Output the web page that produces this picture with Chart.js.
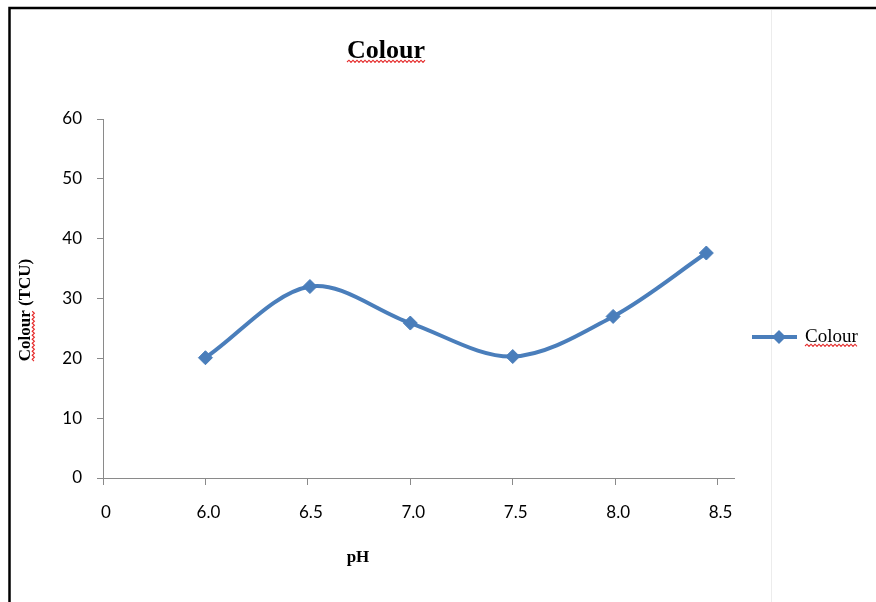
<!DOCTYPE html>
<html>
<head>
<meta charset="utf-8">
<title>Colour</title>
<script src="https://cdn.jsdelivr.net/npm/chart.js@4/dist/chart.umd.min.js"></script>
<style>
  html, body { margin: 0; padding: 0; background: #ffffff; }
  #wrap { width: 876px; height: 602px; }
  canvas { display: block; }
</style>
</head>
<body>
<div id="wrap"><canvas id="chart" width="876" height="602"></canvas></div>
<script>
// Axis tick labels along pH (first slot is the origin)
const xTickLabels = ['0', '6.0', '6.5', '7.0', '7.5', '8.0', '8.5'];
// Horizontal slot of each sample on the pH axis
const xSlots = [1, 2.02, 3.0, 4.0, 4.98, 5.89];
// Colour measured at each pH (TCU)
const colourTCU = [20.1, 32.0, 25.9, 20.3, 27.0, 37.6];
// Vertical axis range
const yTickValues = [0, 10, 20, 30, 40, 50, 60];

const seriesName = 'Colour';
const chartTitle = 'Colour';
const yTitle = 'Colour (TCU)';
const xTitle = 'pH';

const BLUE = '#4a7ebb';
const AXIS = '#8a8a8a';
const SERIF = '"Liberation Serif", "DejaVu Serif", serif';
const SANS = 'Lato, "Open Sans", sans-serif';

// red wavy spell-check style underline
function squiggle(ctx, x1, x2, y) {
  ctx.save();
  ctx.strokeStyle = '#e52b2b';
  ctx.lineWidth = 1.1;
  ctx.beginPath();
  let up = true;
  ctx.moveTo(x1, y);
  for (let x = x1 + 2; x <= x2 + 0.5; x += 2) {
    ctx.lineTo(x, up ? y - 1.8 : y + 0.4);
    up = !up;
  }
  ctx.stroke();
  ctx.restore();
}

function diamond(ctx, x, y, r) {
  ctx.beginPath();
  ctx.moveTo(x, y - r);
  ctx.lineTo(x + r, y);
  ctx.lineTo(x, y + r);
  ctx.lineTo(x - r, y);
  ctx.closePath();
  ctx.fill();
}

const decorations = {
  id: 'decorations',
  beforeDraw(chart) {
    const ctx = chart.ctx;
    ctx.save();
    ctx.fillStyle = '#ffffff';
    ctx.fillRect(0, 0, chart.width, chart.height);
    ctx.restore();
  },
  afterDraw(chart) {
    const ctx = chart.ctx;
    ctx.save();

    // outer frame
    ctx.strokeStyle = '#000000';
    ctx.lineWidth = 2.5;
    ctx.beginPath();
    ctx.moveTo(9.5, 602);
    ctx.lineTo(9.5, 8);
    ctx.lineTo(876, 8);
    ctx.stroke();
    ctx.strokeStyle = '#ececec';
    ctx.lineWidth = 1;
    ctx.beginPath();
    ctx.moveTo(771.5, 10);
    ctx.lineTo(771.5, 602);
    ctx.stroke();

    // chart title
    ctx.fillStyle = '#000000';
    ctx.font = 'bold 26px ' + SERIF;
    ctx.textAlign = 'center';
    ctx.textBaseline = 'alphabetic';
    ctx.fillText(chartTitle, 386, 58);
    const tw = ctx.measureText(chartTitle).width;
    squiggle(ctx, 386 - tw / 2, 386 + tw / 2, 62);

    // x axis title
    ctx.font = 'bold 17px ' + SERIF;
    ctx.fillText(xTitle, 358, 562);

    // y axis title
    ctx.save();
    ctx.translate(30, 310);
    ctx.rotate(-Math.PI / 2);
    ctx.font = 'bold 17px ' + SERIF;
    ctx.textAlign = 'center';
    ctx.fillText(yTitle, 0, 0);
    const yw = ctx.measureText(yTitle).width;
    const cw = ctx.measureText('Colour').width;
    squiggle(ctx, -yw / 2, -yw / 2 + cw, 4);
    ctx.restore();

    // legend
    const ly = 337;
    ctx.strokeStyle = BLUE;
    ctx.lineWidth = 4;
    ctx.beginPath();
    ctx.moveTo(752, ly);
    ctx.lineTo(797, ly);
    ctx.stroke();
    ctx.fillStyle = BLUE;
    diamond(ctx, 779, ly, 7);
    ctx.fillStyle = '#000000';
    ctx.font = '19px ' + SERIF;
    ctx.textAlign = 'left';
    ctx.fillText(seriesName, 805, 342);
    const lw = ctx.measureText(seriesName).width;
    squiggle(ctx, 805, 805 + lw, 346);

    ctx.restore();
  }
};

function build() {
  const points = xSlots.map((x, i) => ({ x: x, y: colourTCU[i] }));
  new Chart(document.getElementById('chart'), {
    type: 'line',
    data: {
      datasets: [{
        label: seriesName,
        data: points,
        borderColor: BLUE,
        backgroundColor: BLUE,
        borderWidth: 4,
        tension: 0.33,
        pointStyle: 'rectRot',
        pointRadius: 7,
        pointHoverRadius: 7,
        pointBorderWidth: 1,
        pointBackgroundColor: BLUE,
        pointBorderColor: BLUE,
        fill: false
      }]
    },
    options: {
      responsive: false,
      animation: false,
      devicePixelRatio: 1,
      layout: { padding: { top: 119, right: 142, bottom: 0, left: 0 } },
      plugins: {
        legend: { display: false },
        title: { display: false },
        tooltip: { enabled: false }
      },
      scales: {
        x: {
          type: 'linear',
          min: 0,
          max: 6.16,
          afterBuildTicks(scale) {
            scale.ticks = xTickLabels.map((_, i) => ({ value: i }));
          },
          afterFit(scale) { scale.height = 124; },
          ticks: {
            autoSkip: false,
            maxRotation: 0,
            padding: 17,
            labelOffset: 3,
            color: '#000000',
            font: { family: SANS, size: 17 },
            callback: (v) => xTickLabels[Math.round(v)]
          },
          grid: {
            drawOnChartArea: false,
            drawTicks: true,
            tickLength: 7,
            color: AXIS
          },
          border: { display: true, color: AXIS, width: 1 }
        },
        y: {
          type: 'linear',
          min: yTickValues[0],
          max: yTickValues[yTickValues.length - 1],
          afterBuildTicks(scale) {
            scale.ticks = yTickValues.map(v => ({ value: v }));
          },
          afterFit(scale) { scale.width = 103; },
          ticks: {
            padding: 15,
            color: '#000000',
            font: { family: SANS, size: 17 }
          },
          grid: {
            drawOnChartArea: false,
            drawTicks: true,
            tickLength: 6,
            color: AXIS
          },
          border: { display: true, color: AXIS, width: 1 }
        }
      }
    },
    plugins: [decorations]
  });
}

if (document.fonts && document.fonts.load) {
  Promise.all([
    document.fonts.load('17px Lato'),
    document.fonts.load('bold 26px "Liberation Serif"'),
    document.fonts.load('19px "Liberation Serif"')
  ]).then(build, build);
} else {
  build();
}
</script>
</body>
</html>
